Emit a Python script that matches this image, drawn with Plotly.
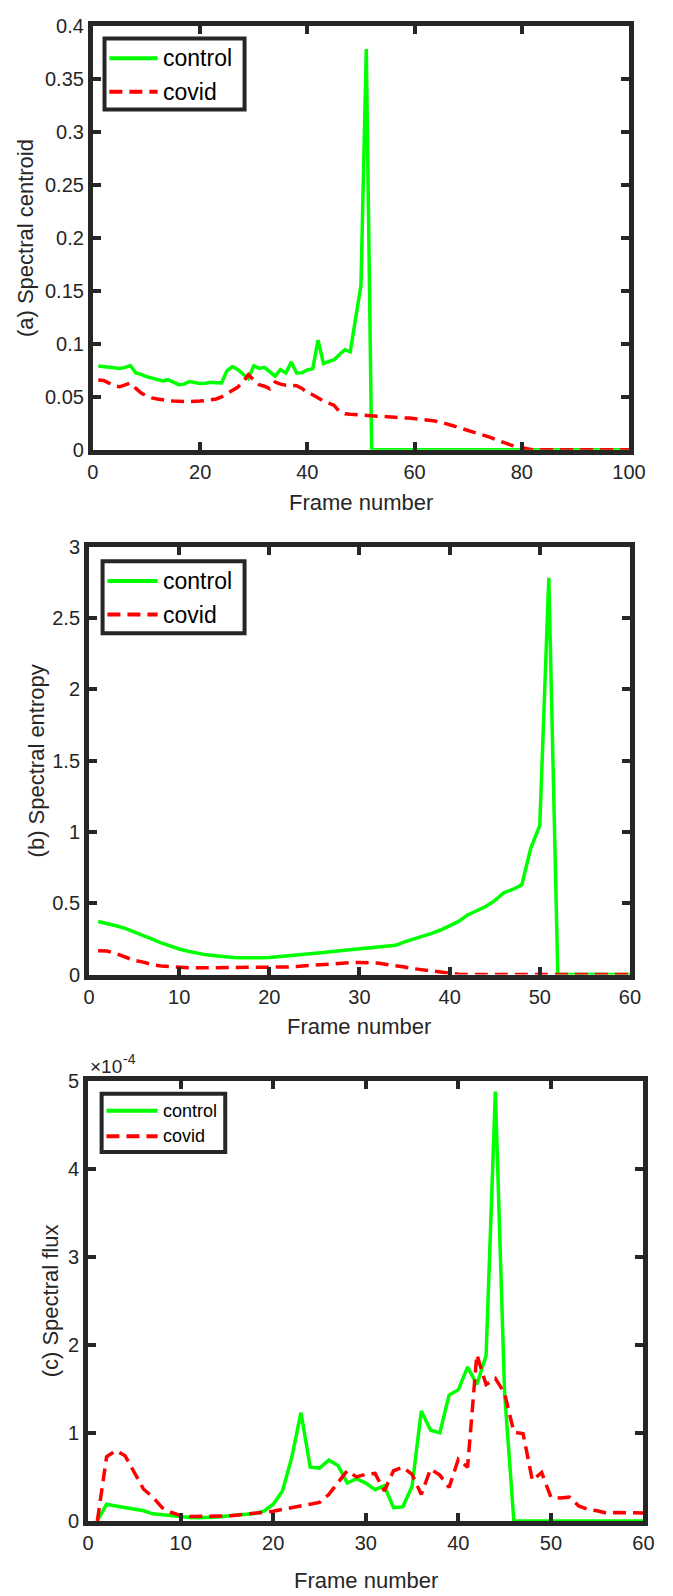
import plotly.graph_objects as go

# ---------------------------------------------------------------- data
frames_a = list(range(1, 101))
frames_bc = list(range(1, 61))

centroid_control = [
    0.0790, 0.0786, 0.0780, 0.0775, 0.0768, 0.0778, 0.0795, 0.0725, 0.0712, 0.0690,
    0.0678, 0.0665, 0.0650, 0.0662, 0.0638, 0.0615, 0.0620, 0.0645, 0.0636, 0.0625,
    0.0628, 0.0638, 0.0634, 0.0632, 0.0745, 0.0785, 0.0758, 0.0720, 0.0672, 0.0792,
    0.0768, 0.0778, 0.0735, 0.0695, 0.0758, 0.0725, 0.0828, 0.0725, 0.0728, 0.0755,
    0.0765, 0.1035, 0.0815, 0.0830, 0.0850, 0.0900, 0.0945, 0.0925, 0.1250, 0.1550,
    0.3780, 0.0, 0.0, 0.0, 0.0, 0.0, 0.0, 0.0, 0.0, 0.0,
    0.0, 0.0, 0.0, 0.0, 0.0, 0.0, 0.0, 0.0, 0.0, 0.0,
    0.0, 0.0, 0.0, 0.0, 0.0, 0.0, 0.0, 0.0, 0.0, 0.0,
    0.0, 0.0, 0.0, 0.0, 0.0, 0.0, 0.0, 0.0, 0.0, 0.0,
    0.0, 0.0, 0.0, 0.0, 0.0, 0.0, 0.0, 0.0, 0.0, 0.0,
]
centroid_covid = [
    0.0660, 0.0655, 0.0630, 0.0605, 0.0595, 0.0615, 0.0630, 0.0580, 0.0535, 0.0510,
    0.0490, 0.0480, 0.0470, 0.0465, 0.0460, 0.0455, 0.0455, 0.0455, 0.0455, 0.0460,
    0.0465, 0.0470, 0.0480, 0.0500, 0.0530, 0.0560, 0.0590, 0.0640, 0.0710, 0.0660,
    0.0615, 0.0600, 0.0575, 0.0640, 0.0620, 0.0610, 0.0610, 0.0605, 0.0580, 0.0540,
    0.0520, 0.0490, 0.0460, 0.0440, 0.0420, 0.0360, 0.0340, 0.0335, 0.0330, 0.0325,
    0.0322, 0.0320, 0.0318, 0.0315, 0.0310, 0.0308, 0.0305, 0.0302, 0.0300, 0.0296,
    0.0290, 0.0285, 0.0278, 0.0270, 0.0260, 0.0245, 0.0230, 0.0215, 0.0200, 0.0185,
    0.0170, 0.0155, 0.0140, 0.0120, 0.0100, 0.0080, 0.0062, 0.0045, 0.0030, 0.0018,
    0.0008, 0.0002, 0.0, 0.0, 0.0, 0.0, 0.0, 0.0, 0.0, 0.0,
    0.0, 0.0, 0.0, 0.0, 0.0, 0.0, 0.0, 0.0, 0.0, 0.0,
]

entropy_control = [
    0.372, 0.358, 0.342, 0.323, 0.300, 0.275, 0.248, 0.222, 0.200, 0.179,
    0.163, 0.149, 0.138, 0.131, 0.124, 0.119, 0.117, 0.115, 0.117, 0.119,
    0.124, 0.128, 0.133, 0.138, 0.147, 0.154, 0.161, 0.168, 0.172, 0.183,
    0.188, 0.193, 0.202, 0.205, 0.229, 0.248, 0.271, 0.289, 0.312, 0.340,
    0.372, 0.418, 0.445, 0.477, 0.518, 0.573, 0.596, 0.628, 0.885, 1.045,
    2.780, 0.0, 0.0, 0.0, 0.0, 0.0, 0.0, 0.0, 0.0, 0.0,
]
entropy_covid = [
    0.167, 0.165, 0.147, 0.120, 0.099, 0.087, 0.069, 0.060, 0.055, 0.050,
    0.048, 0.047, 0.047, 0.047, 0.047, 0.047, 0.047, 0.048, 0.048, 0.048,
    0.050, 0.053, 0.057, 0.062, 0.066, 0.071, 0.076, 0.080, 0.083, 0.085,
    0.083, 0.080, 0.071, 0.064, 0.053, 0.041, 0.032, 0.025, 0.016, 0.009,
    0.002, 0.0, 0.0, 0.0, 0.0, 0.0, 0.0, 0.0, 0.0, 0.0,
    0.0, 0.0, 0.0, 0.0, 0.0, 0.0, 0.0, 0.0, 0.0, 0.0,
]

# spectral flux, listed in units of 1e-4
flux_unit = 1e-4
flux_control = [
    0.0, 0.19, 0.17, 0.155, 0.135, 0.115, 0.08, 0.07, 0.057, 0.045,
    0.038, 0.035, 0.038, 0.045, 0.055, 0.065, 0.075, 0.085, 0.11, 0.19,
    0.34, 0.72, 1.23, 0.61, 0.60, 0.69, 0.63, 0.43, 0.48, 0.43,
    0.355, 0.40, 0.15, 0.16, 0.39, 1.25, 1.03, 1.00, 1.43, 1.49,
    1.75, 1.55, 1.88, 4.88, 1.45, 0.0, 0.0, 0.0, 0.0, 0.0,
    0.0, 0.0, 0.0, 0.0, 0.0, 0.0, 0.0, 0.0, 0.0, 0.0,
]
flux_covid = [
    0.0, 0.73, 0.80, 0.74, 0.55, 0.36, 0.27, 0.15, 0.095, 0.06,
    0.05, 0.05, 0.05, 0.05, 0.055, 0.065, 0.075, 0.085, 0.095, 0.11,
    0.13, 0.15, 0.17, 0.19, 0.21, 0.30, 0.44, 0.57, 0.50, 0.53,
    0.54, 0.34, 0.57, 0.61, 0.53, 0.30, 0.59, 0.52, 0.38, 0.70,
    0.61, 1.89, 1.55, 1.62, 1.45, 1.01, 0.99, 0.46, 0.55, 0.27,
    0.26, 0.27, 0.17, 0.13, 0.115, 0.088, 0.095, 0.095, 0.095, 0.09,
]

series_names = ["control", "covid"]
y_titles = ["(a) Spectral centroid", "(b) Spectral entropy", "(c) Spectral flux"]
x_title = "Frame number"

# ---------------------------------------------------------------- layout helpers
W, H = 673, 1596
FONT = "Liberation Sans, Arial, Helvetica, sans-serif"
INK = "#262626"
GREEN = "#00ff00"
RED = "#ff0000"


def px(x):
    return x / W


def py(y):
    return 1 - y / H


# plot-area boxes in pixels: left, right, top, bottom
boxes = [(90, 645, 15, 445), (86, 646, 543, 977), (85, 660, 1085, 1531)]

fig = go.Figure()

panel_data = [
    (frames_a, centroid_control, centroid_covid),
    (frames_bc, entropy_control, entropy_covid),
    (frames_bc, [v * flux_unit for v in flux_control], [v * flux_unit for v in flux_covid]),
]

for i, (xs, ctrl, cov) in enumerate(panel_data):
    ax = "" if i == 0 else str(i + 1)
    fig.add_trace(go.Scatter(x=xs, y=ctrl, mode="lines", name=series_names[0],
                             line=dict(color=GREEN, width=3.5),
                             xaxis="x" + ax, yaxis="y" + ax, showlegend=False))
    fig.add_trace(go.Scatter(x=xs, y=cov, mode="lines", name=series_names[1],
                             line=dict(color=RED, width=3.5, dash="13px,7px"),
                             xaxis="x" + ax, yaxis="y" + ax, showlegend=False))

axis_common = dict(
    ticks="inside", ticklen=8, tickwidth=4, tickcolor=INK,
    showline=True, linewidth=5, linecolor=INK, mirror="ticks",
    showgrid=False, zeroline=False,
    tickfont=dict(family=FONT, size=20, color=INK),
)

x_specs = [dict(range=[0, 100], tick0=0, dtick=20),
           dict(range=[0, 60], tick0=0, dtick=10),
           dict(range=[0, 60], tick0=0, dtick=10)]
y_specs = [dict(range=[0, 0.4], tick0=0, dtick=0.05),
           dict(range=[0, 3], tick0=0, dtick=0.5),
           dict(range=[0, 5e-4], tickvals=[k * flux_unit for k in range(6)],
                ticktext=[str(k) for k in range(6)])]

for i, (l, r, t, b) in enumerate(boxes):
    key = "" if i == 0 else str(i + 1)
    fig.layout["xaxis" + key] = dict(domain=[px(l), px(r)], anchor="y" + key,
                                     **x_specs[i], **axis_common)
    fig.layout["yaxis" + key] = dict(domain=[py(b), py(t)], anchor="x" + key,
                                     **y_specs[i], **axis_common)

# ---------------------------------------------------------------- titles
annotations = []
y_title_x = [21, 32, 47]
x_title_y = [498, 1030, 1591]
for i, (l, r, t, b) in enumerate(boxes):
    annotations.append(dict(text=y_titles[i], x=px(y_title_x[i]), y=py((t + b) / 2),
                            xref="paper", yref="paper", showarrow=False, textangle=-90,
                            xanchor="center", yanchor="middle",
                            font=dict(family=FONT, size=22, color=INK)))
    annotations.append(dict(text=x_title, x=px((l + r) / 2), y=py(x_title_y[i]),
                            xref="paper", yref="paper", showarrow=False,
                            xanchor="center", yanchor="middle",
                            font=dict(family=FONT, size=22, color=INK)))

# exponent label of the flux axis: "×10" with a raised "-4"
annotations.append(dict(text="\u00d710", x=px(85), y=py(1070),
                        xref="paper", yref="paper", showarrow=False,
                        xanchor="left", yanchor="middle",
                        font=dict(family=FONT, size=19, color=INK)))
annotations.append(dict(text="-4", x=px(119), y=py(1063),
                        xref="paper", yref="paper", showarrow=False,
                        xanchor="left", yanchor="middle",
                        font=dict(family=FONT, size=14, color=INK)))

# ---------------------------------------------------------------- legends
# (box left, box right, box top, box bottom, control row y, covid row y, font size)
legend_specs = [
    (102, 247, 28, 100, 48, 82, 23),
    (100, 247, 558, 631, 578, 612, 23),
    (99, 227, 1098, 1157, 1115, 1141, 18),
]
shapes = []
for (l, r, t, b, yc, yv, fs) in legend_specs:
    shapes.append(dict(type="rect", xref="paper", yref="paper",
                       x0=px(l), x1=px(r), y0=py(b), y1=py(t),
                       line=dict(color=INK, width=4), fillcolor="white", layer="above"))
    shapes.append(dict(type="line", xref="paper", yref="paper",
                       x0=px(l + 5), x1=px(157), y0=py(yc), y1=py(yc),
                       line=dict(color=GREEN, width=4), layer="above"))
    shapes.append(dict(type="line", xref="paper", yref="paper",
                       x0=px(l + 5), x1=px(157), y0=py(yv), y1=py(yv),
                       line=dict(color=RED, width=4, dash="13px,7px"), layer="above"))
    for name, yy in zip(series_names, (yc, yv)):
        annotations.append(dict(text=name, x=px(161), y=py(yy), xref="paper", yref="paper",
                                showarrow=False, xanchor="left", yanchor="middle",
                                font=dict(family=FONT, size=fs, color="black")))

fig.update_layout(
    width=W, height=H, margin=dict(l=0, r=0, t=0, b=0),
    paper_bgcolor="white", plot_bgcolor="white",
    shapes=shapes, annotations=annotations, showlegend=False,
)

fig.write_html("out.html")
